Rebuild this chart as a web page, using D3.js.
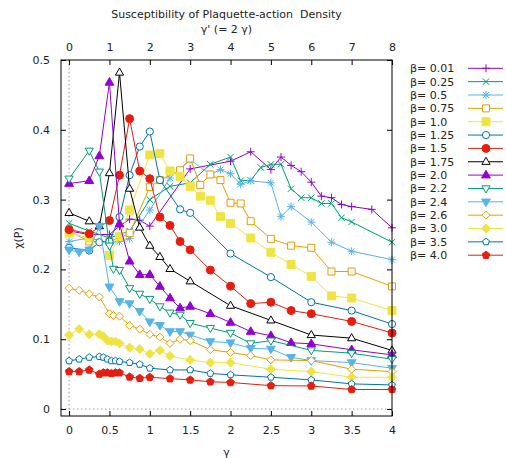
<!DOCTYPE html>
<html><head><meta charset="utf-8">
<script src="https://cdn.jsdelivr.net/npm/d3@7"></script>
<style>body{margin:0;background:#fff} text{font-family:"DejaVu Sans",sans-serif;font-size:11px;fill:#222}</style>
</head><body>
<svg id="c" width="506" height="458"></svg>
<script>
// ---------- data ----------
const betaLabels = ["β= 0.01","β= 0.25","β= 0.5","β= 0.75","β= 1.0","β= 1.25","β= 1.5","β= 1.75","β= 2.0","β= 2.2","β= 2.4","β= 2.6","β= 3.0","β= 3.5","β= 4.0"];

const g_b001 = [0,0.25,0.5,0.625,0.75,0.875,1.0,1.5,2.0,2.25,2.5,2.625,2.75,2.875,3.0,3.125,3.25,3.375,3.5,3.75,4.0];
const c_b001 = [0.255,0.25,0.25,0.262,0.272,0.2705,0.262,0.344,0.355,0.3685,0.343,0.361,0.349,0.340,0.325,0.305,0.3027,0.293,0.29,0.286,0.2596];

const g_b025 = [0,0.25,0.5,0.75,1.0,1.25,1.5,1.75,2.0,2.125,2.25,2.375,2.5,2.625,2.75,2.875,3.0,3.125,3.25,3.375,3.5,4.0];
const c_b025 = [0.266,0.255,0.245,0.255,0.300,0.319,0.324,0.3506,0.361,0.327,0.3276,0.346,0.3506,0.3506,0.3157,0.3027,0.3027,0.2945,0.2945,0.274,0.268,0.239];

const g_b050 = [0,0.25,0.5,0.625,0.75,1.0,1.25,1.5,1.75,1.875,2.0,2.125,2.25,2.5,2.625,2.75,3.0,3.25,3.5,4.0];
const c_b050 = [0.24,0.245,0.238,0.24,0.244,0.285,0.331,0.357,0.336,0.343,0.337,0.322,0.327,0.324,0.2755,0.29,0.2677,0.239,0.226,0.214];

const g_b075 = [0,0.25,0.5,0.625,0.75,1.0,1.125,1.375,1.5,1.625,1.75,1.875,2.0,2.125,2.25,2.5,2.75,3.0,3.25,3.5,4.0];
const c_b075 = [0.255,0.24,0.24,0.245,0.252,0.318,0.328,0.342,0.359,0.321,0.336,0.328,0.2955,0.2945,0.269,0.2438,0.234,0.231,0.197,0.197,0.1757];

const g_b100 = [0,0.25,0.5,0.625,0.75,1.0,1.125,1.25,1.375,1.5,1.625,1.75,1.875,2.0,2.25,2.5,2.75,3.0,3.25,3.5,4.0];
const c_b100 = [0.252,0.245,0.22,0.247,0.285,0.364,0.366,0.341,0.333,0.319,0.305,0.299,0.2755,0.266,0.245,0.2246,0.207,0.190,0.162,0.159,0.141];

const g_b125 = [0,0.25,0.375,0.5,0.625,0.75,0.875,1.0,1.125,1.375,1.5,2.0,2.5,3.0,3.5,4.0];
const c_b125 = [0.231,0.227,0.239,0.24,0.275,0.335,0.376,0.3975,0.328,0.286,0.281,0.2227,0.189,0.153,0.141,0.1217];

const g_b150 = [0,0.25,0.5,0.625,0.75,0.875,1.0,1.125,1.25,1.375,1.5,1.75,2.0,2.25,2.5,2.75,3.0,3.5,4.0];
const c_b150 = [0.257,0.251,0.270,0.335,0.416,0.341,0.330,0.275,0.263,0.240,0.228,0.199,0.176,0.151,0.153,0.141,0.1365,0.1255,0.109];

const g_b175 = [0,0.25,0.375,0.5,0.625,0.75,0.875,1.0,1.125,1.25,1.5,2.0,2.5,3.0,3.5,4.0];
const c_b175 = [0.281,0.269,0.262,0.338,0.482,0.3157,0.26,0.234,0.218,0.2007,0.183,0.148,0.127,0.106,0.1015,0.084];

const g_b200 = [0,0.25,0.375,0.5,0.625,0.75,0.875,1.0,1.125,1.25,1.375,1.5,1.75,2.0,2.25,2.5,2.75,3.0,3.5,4.0];
const c_b200 = [0.323,0.327,0.3625,0.468,0.265,0.2117,0.1925,0.1925,0.1757,0.159,0.1447,0.147,0.1365,0.124,0.111,0.105,0.095,0.0934,0.0848,0.0776];

const g_b220 = [0,0.25,0.375,0.5,0.55,0.625,0.75,0.875,1.0,1.125,1.25,1.375,1.5,1.75,2.0,2.25,2.5,3.0,3.5,4.0];
const c_b220 = [0.330,0.370,0.340,0.234,0.2007,0.199,0.173,0.165,0.1576,0.147,0.138,0.135,0.123,0.116,0.109,0.094,0.098,0.084,0.080,0.0714];

const g_b240 = [0,0.125,0.25,0.375,0.5,0.625,0.75,0.875,1.0,1.125,1.25,1.375,1.5,1.75,2.0,2.25,2.5,2.75,3.0,3.5,4.0];
const c_b240 = [0.228,0.225,0.228,0.262,0.175,0.154,0.151,0.14,0.125,0.12,0.111,0.111,0.106,0.0967,0.095,0.087,0.086,0.074,0.0694,0.0665,0.0585];

const g_b260 = [0,0.125,0.25,0.375,0.5,0.55,0.625,0.75,0.875,1.0,1.125,1.25,1.375,1.5,1.75,2.0,2.25,2.5,3.0,3.5,4.0];
const c_b260 = [0.173,0.170,0.165,0.1605,0.1365,0.134,0.133,0.1197,0.1145,0.107,0.103,0.094,0.100,0.098,0.085,0.081,0.0766,0.0704,0.0694,0.057,0.0536];

const g_b300 = [0,0.125,0.25,0.375,0.425,0.475,0.525,0.575,0.625,0.75,0.875,1.0,1.125,1.25,1.5,1.75,2.0,2.5,3.0,3.5,4.0];
const c_b300 = [0.106,0.1145,0.107,0.107,0.104,0.098,0.0967,0.0967,0.094,0.088,0.086,0.079,0.084,0.076,0.0704,0.0665,0.0665,0.057,0.0536,0.0455,0.0455];

const g_b350 = [0,0.125,0.25,0.375,0.425,0.475,0.525,0.575,0.625,0.75,0.875,1.0,1.25,1.5,1.75,2.0,2.5,3.0,3.5,4.0];
const c_b350 = [0.069,0.0714,0.074,0.075,0.074,0.0714,0.069,0.069,0.068,0.0665,0.064,0.0585,0.056,0.056,0.051,0.049,0.0455,0.0417,0.036,0.0345];

const g_b400 = [0,0.125,0.25,0.375,0.425,0.475,0.525,0.575,0.625,0.75,0.875,1.0,1.25,1.5,1.75,2.0,2.5,3.0,3.5,4.0];
const c_b400 = [0.0536,0.0536,0.056,0.050,0.052,0.052,0.051,0.052,0.052,0.046,0.044,0.0455,0.0435,0.0417,0.039,0.038,0.0335,0.033,0.028,0.028];

const xTicks = [0,0.5,1,1.5,2,2.5,3,3.5,4];
const x2Ticks = [0,1,2,3,4,5,6,7,8];
const yTicks = [0,0.1,0.2,0.3,0.4,0.5];

const gammaSets = [g_b001,g_b025,g_b050,g_b075,g_b100,g_b125,g_b150,g_b175,g_b200,g_b220,g_b240,g_b260,g_b300,g_b350,g_b400];
const chiSets   = [c_b001,c_b025,c_b050,c_b075,c_b100,c_b125,c_b150,c_b175,c_b200,c_b220,c_b240,c_b260,c_b300,c_b350,c_b400];

// ---------- styles ----------
const palette = ["#9400D3","#009E73","#56B4E9","#E69F00","#F0E442","#0072B2","#E51E10","#000000"];
const symbolTypes = ["plus","cross","star","sqOpen","sqFill","circOpen","circFill","triUpOpen","triUpFill","triDnOpen","triDnFill","diaOpen","diaFill","pentOpen","pentFill"];

function symPath(t){
  switch(t){
    case "plus": return "M-4,0H4M0,-4V4";
    case "cross": return "M-3.2,-3.2L3.2,3.2M-3.2,3.2L3.2,-3.2";
    case "star": return "M-4,0H4M0,-4V4M-3,-3L3,3M-3,3L3,-3";
    case "sqOpen": return "M-3.5,-3.5h7v7h-7z";
    case "sqFill": return "M-4,-4h8v8h-8z";
    case "circOpen": return d3.arc()({innerRadius:0,outerRadius:3.6,startAngle:0,endAngle:2*Math.PI});
    case "circFill": return d3.arc()({innerRadius:0,outerRadius:4.0,startAngle:0,endAngle:2*Math.PI});
    case "triUpOpen": return "M0,-4.5L4.1,2.6L-4.1,2.6Z";
    case "triUpFill": return "M0,-4.8L4.4,2.8L-4.4,2.8Z";
    case "triDnOpen": return "M0,4.5L4.1,-2.6L-4.1,-2.6Z";
    case "triDnFill": return "M0,4.8L4.4,-2.8L-4.4,-2.8Z";
    case "diaOpen": return "M0,-4L4,0L0,4L-4,0Z";
    case "diaFill": return "M0,-4.5L4.5,0L0,4.5L-4.5,0Z";
    case "pentOpen": case "pentFill": {
      const r = t==="pentOpen"?3.6:4.0; let p="";
      for(let k=0;k<5;k++){const a=-Math.PI/2+k*2*Math.PI/5;p+=(k?"L":"M")+(r*Math.cos(a)).toFixed(2)+","+(r*Math.sin(a)).toFixed(2);}
      return p+"Z";
    }
  }
}
const isFilled = t => /Fill$/.test(t);
const isLineOnly = t => t==="plus"||t==="cross"||t==="star";

// ---------- layout ----------
const svg = d3.select("#c");
const L=61,R=392,T=60,B=416;
const x = d3.scaleLinear().domain([-0.1,4.0]).range([L,R]);
const x2 = d3.scaleLinear().domain([-0.2,8.0]).range([L,R]);
const y = d3.scaleLinear().domain([-0.01,0.5]).range([B,T]);

// zero axes (dotted grey)
svg.append("line").attr("x1",x(0)).attr("x2",x(0)).attr("y1",T).attr("y2",B)
  .attr("stroke","#a0a0a0").attr("stroke-dasharray","1.5,2.5").attr("stroke-width",1);
svg.append("line").attr("x1",L).attr("x2",R).attr("y1",y(0)).attr("y2",y(0))
  .attr("stroke","#a0a0a0").attr("stroke-dasharray","1.5,2.5").attr("stroke-width",1);

// axes
function styleAxis(g){ g.select(".domain").remove(); g.selectAll("line").attr("stroke","#000"); g.selectAll("text").attr("font-size",null).attr("font-family",null).attr("fill","#222"); }
svg.append("g").attr("transform",`translate(0,${B})`)
  .call(d3.axisBottom(x).tickValues(xTicks).tickSize(-5).tickPadding(10).tickFormat(d3.format("")))
  .call(styleAxis);
svg.append("g").attr("transform",`translate(0,${T})`)
  .call(d3.axisTop(x2).tickValues(x2Ticks).tickSize(-5).tickPadding(9).tickFormat(d3.format("d")))
  .call(styleAxis);
svg.append("g").attr("transform",`translate(${L},0)`)
  .call(d3.axisLeft(y).tickValues(yTicks).tickSize(-5).tickPadding(11).tickFormat(d=>d===0?"0":d3.format(".1f")(d)))
  .call(styleAxis);
svg.append("g").attr("transform",`translate(${R},0)`)
  .call(d3.axisRight(y).tickValues(yTicks).tickSize(-5).tickFormat(""))
  .call(styleAxis);

// series
const line = d3.line().x(d=>x(d[0])).y(d=>y(d[1]));
betaLabels.forEach((lab,i)=>{
  const col = palette[i%palette.length];
  const t = symbolTypes[i];
  const pts = gammaSets[i].map((g,j)=>[g,chiSets[i][j]]);
  const gg = svg.append("g");
  gg.append("path").attr("d",line(pts)).attr("fill","none").attr("stroke",col).attr("stroke-width",1);
  gg.selectAll("path.m").data(pts).join("path").attr("class","m")
    .attr("transform",d=>`translate(${x(d[0])},${y(d[1])})`)
    .attr("d",symPath(t))
    .attr("fill",isFilled(t)?col:(isLineOnly(t)?"none":"#fff"))
    .attr("stroke",col).attr("stroke-width",1);
  // legend
  const ly = 68.3 + i*13.35;
  svg.append("text").attr("x",410).attr("y",ly).attr("dy","0.35em").text(lab);
  svg.append("line").attr("x1",468).attr("x2",503).attr("y1",ly).attr("y2",ly).attr("stroke",col).attr("stroke-width",1);
  svg.append("path").attr("transform",`translate(486,${ly})`).attr("d",symPath(t))
    .attr("fill",isFilled(t)?col:(isLineOnly(t)?"none":"#fff")).attr("stroke",col).attr("stroke-width",1);
});

// frame
svg.append("rect").attr("x",L).attr("y",T).attr("width",R-L).attr("height",B-T)
  .attr("fill","none").attr("stroke","#000").attr("stroke-width",1);

// titles
svg.append("text").attr("x",(L+R)/2).attr("y",18).attr("text-anchor","middle").style("white-space","pre").text("Susceptibility of Plaquette-action  Density");
svg.append("text").attr("x",(L+R)/2).attr("y",33).attr("text-anchor","middle").text("γ' (= 2 γ)");
svg.append("text").attr("x",(L+R)/2).attr("y",456).attr("text-anchor","middle").text("γ");
svg.append("text").attr("transform","translate(22,238) rotate(-90)").attr("text-anchor","middle").text("χ(P)");
</script>
</body></html>
